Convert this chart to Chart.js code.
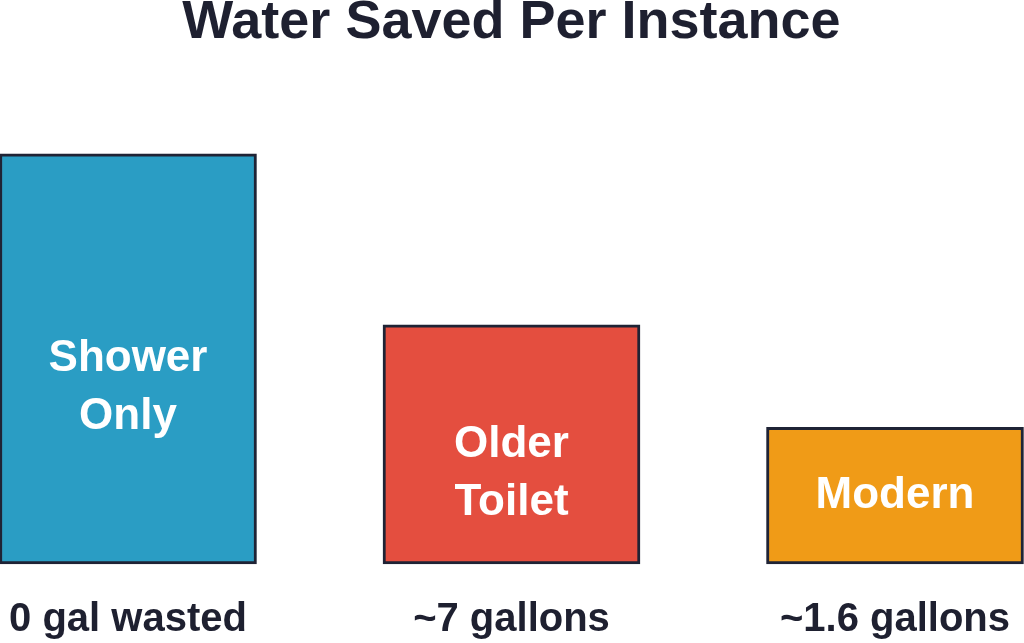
<!DOCTYPE html>
<html>
<head>
<meta charset="utf-8">
<script src="https://cdn.jsdelivr.net/npm/chart.js@4"></script>
<style>
html,body{margin:0;padding:0;background:#fff;}
#wrap{width:1024px;height:643px;position:relative;}
</style>
</head>
<body>
<div id="wrap"><canvas id="c" width="1024" height="643"></canvas></div>
<script>
const categories = ["0 gal wasted", "~7 gallons", "~1.6 gallons"];
const barNames = [["Shower", "Only"], ["Older", "Toilet"], ["Modern"]];
const barValues = [12, 7, 4];
const barColors = ["#2a9dc4", "#e44e3f", "#f09b17"];
const titleText = "Water Saved Per Instance";

const innerLabels = {
  id: 'innerLabels',
  afterDatasetsDraw(chart) {
    const ctx = chart.ctx;
    const meta = chart.getDatasetMeta(0);
    ctx.save();
    ctx.fillStyle = '#ffffff';
    ctx.font = 'bold 44px "Liberation Sans", Arial, sans-serif';
    ctx.textAlign = 'center';
    ctx.textBaseline = 'middle';
    meta.data.forEach((bar, i) => {
      const cy = (bar.y + bar.base) / 2;
      barNames[i].forEach((line, j) => {
        ctx.fillText(line, bar.x, cy + j * 58);
      });
    });
    ctx.restore();
  }
};

new Chart(document.getElementById('c'), {
  type: 'bar',
  data: {
    labels: categories,
    datasets: [{
      data: barValues,
      backgroundColor: barColors,
      borderColor: '#1f2335',
      borderWidth: 3,
      borderSkipped: false,
      barThickness: 257,
      clip: false
    }]
  },
  options: {
    responsive: false,
    animation: false,
    layout: { padding: { left: 128, right: 129, top: 0, bottom: -33 } },
    plugins: {
      legend: { display: false },
      tooltip: { enabled: false },
      title: {
        display: true,
        text: titleText,
        color: '#1e2030',
        font: { family: '"Liberation Sans", Arial, sans-serif', size: 54, weight: 'bold', lineHeight: 0.85 },
        padding: { top: 0, bottom: 108 }
      }
    },
    scales: {
      x: {
        offset: false,
        grid: { display: false, drawTicks: false },
        border: { display: false },
        ticks: {
          padding: 8,
          color: '#1e2030',
          maxRotation: 0,
          autoSkip: false,
          font: { family: '"Liberation Sans", Arial, sans-serif', size: 40, weight: 'bold', lineHeight: 2.4 }
        }
      },
      y: {
        display: false,
        min: 0,
        max: 12
      }
    }
  },
  plugins: [innerLabels]
});
</script>
</body>
</html>
